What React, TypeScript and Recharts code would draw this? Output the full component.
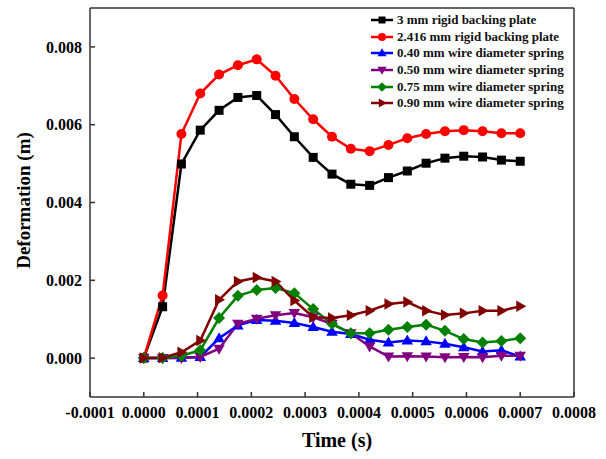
import React from 'react'
import { LineChart, Line, XAxis, YAxis, ReferenceLine, Legend } from 'recharts'

// time (s), one sample every 3.5e-5 s
const timeS = [
  0, 0.000035, 0.00007, 0.000105, 0.00014, 0.000175, 0.00021, 0.000245, 0.00028, 0.000315, 0.00035,
  0.000385, 0.00042, 0.000455, 0.00049, 0.000525, 0.00056, 0.000595, 0.00063, 0.000665, 0.0007,
]

// deformation (m)
const plate3mm = [
  0, 0.00132, 0.00499, 0.00586, 0.00637, 0.0067, 0.00675, 0.00626, 0.00569, 0.00516, 0.00473,
  0.00447, 0.00444, 0.00464, 0.00481, 0.00501, 0.00514, 0.00519, 0.00517, 0.00509, 0.00506,
]
const plate2416mm = [
  0, 0.00161, 0.00576, 0.0068, 0.00729, 0.00753, 0.00768, 0.00726, 0.00666, 0.00614, 0.00569,
  0.00538, 0.00532, 0.00548, 0.00565, 0.00576, 0.00583, 0.00586, 0.00583, 0.00578, 0.00578,
]
const spring040 = [
  0, 0, 0.00001, 0.00003, 0.00051, 0.00084, 0.00098, 0.00096, 0.0009, 0.0008, 0.00068,
  0.00062, 0.00047, 0.0004, 0.00045, 0.00043, 0.00037, 0.00028, 0.00017, 0.0002, 0.00004,
]
const spring050 = [
  0, 0, 0, 0.00003, 0.00024, 0.00088, 0.00101, 0.0011, 0.00116, 0.00105, 0.00088,
  0.00064, 0.0003, 0.00004, 0.00005, 0.00004, 0.00002, 0.00003, 0.00002, 0.00006, 0.00006,
]
const spring075 = [
  0, 0, 0.00006, 0.0002, 0.00103, 0.0016, 0.00175, 0.0018, 0.00167, 0.00126, 0.00088,
  0.00064, 0.00064, 0.00073, 0.0008, 0.00086, 0.0007, 0.00049, 0.0004, 0.00044, 0.00051,
]
const spring090 = [
  0, 0.00001, 0.00015, 0.00045, 0.0015, 0.00197, 0.00207, 0.00197, 0.00148, 0.00105, 0.00103,
  0.0011, 0.00122, 0.00139, 0.00144, 0.00122, 0.00111, 0.00115, 0.00122, 0.00122, 0.00133,
]

const xTicks = [-0.0001, 0, 0.0001, 0.0002, 0.0003, 0.0004, 0.0005, 0.0006, 0.0007, 0.0008]
const yTicks = [0, 0.002, 0.004, 0.006, 0.008]

const data = timeS.map((t, i) => ({
  t,
  plate3mm: plate3mm[i],
  plate2416mm: plate2416mm[i],
  spring040: spring040[i],
  spring050: spring050[i],
  spring075: spring075[i],
  spring090: spring090[i],
}))

type Shape = 'square' | 'circle' | 'up' | 'down' | 'diamond' | 'right'

const series: { key: string; name: string; color: string; shape: Shape }[] = [
  { key: 'plate3mm', name: '3 mm rigid backing plate', color: '#000000', shape: 'square' },
  { key: 'plate2416mm', name: '2.416 mm rigid backing plate', color: '#ff0000', shape: 'circle' },
  { key: 'spring040', name: '0.40 mm wire diameter spring', color: '#0000ff', shape: 'up' },
  { key: 'spring050', name: '0.50 mm wire diameter spring', color: '#800080', shape: 'down' },
  { key: 'spring075', name: '0.75 mm wire diameter spring', color: '#008000', shape: 'diamond' },
  { key: 'spring090', name: '0.90 mm wire diameter spring', color: '#800000', shape: 'right' },
]

const FONT = '"Liberation Serif", "Times New Roman", serif'
const AXIS = '#333333'

function Marker({ cx, cy, shape, color, s = 5 }: { cx: number; cy: number; shape: Shape; color: string; s?: number }) {
  if (cx == null || cy == null) return null
  switch (shape) {
    case 'square':
      return <rect x={cx - s + 0.5} y={cy - s + 0.5} width={2 * s - 1} height={2 * s - 1} fill={color} />
    case 'circle':
      return <circle cx={cx} cy={cy} r={s} fill={color} />
    case 'up':
      return <polygon points={`${cx},${cy - s * 1.2} ${cx - s * 1.15},${cy + s * 0.8} ${cx + s * 1.15},${cy + s * 0.8}`} fill={color} />
    case 'down':
      return <polygon points={`${cx},${cy + s * 1.2} ${cx - s * 1.15},${cy - s * 0.8} ${cx + s * 1.15},${cy - s * 0.8}`} fill={color} />
    case 'diamond':
      return <polygon points={`${cx},${cy - s * 1.2} ${cx + s * 1.2},${cy} ${cx},${cy + s * 1.2} ${cx - s * 1.2},${cy}`} fill={color} />
    default:
      return <polygon points={`${cx + s * 1.2},${cy} ${cx - s * 0.8},${cy - s * 1.15} ${cx - s * 0.8},${cy + s * 1.15}`} fill={color} />
  }
}

function LegendBox() {
  return (
    <div style={{ fontFamily: FONT, fontWeight: 'bold', fontSize: 13, color: '#111' }}>
      {series.map((s) => (
        <div key={s.key} style={{ display: 'flex', alignItems: 'center', height: 16.6 }}>
          <svg width={23} height={14} style={{ display: 'block' }}>
            <line x1={0} y1={7} x2={22} y2={7} stroke={s.color} strokeWidth={2.5} />
            <Marker cx={11} cy={7} shape={s.shape} color={s.color} s={4} />
          </svg>
          <span style={{ marginLeft: 3, whiteSpace: 'nowrap', lineHeight: '16px' }}>{s.name}</span>
        </div>
      ))}
    </div>
  )
}

const tickStyle = { fontSize: 16, fontWeight: 'bold', fill: '#000', fontFamily: FONT }

export default function App() {
  return (
    <div style={{ position: 'absolute', left: 0, top: 0, background: '#fff' }}>
      <LineChart width={606} height={459} data={data} margin={{ top: 8, right: 32, bottom: 0, left: 0 }}>
        <XAxis
          dataKey="t"
          type="number"
          domain={[-0.0001, 0.0008]}
          ticks={xTicks}
          interval={0}
          tickFormatter={(v: number) => v.toFixed(4)}
          height={62}
          stroke={AXIS}
          strokeWidth={1.5}
          tickSize={-5}
          tickMargin={15}
          tick={tickStyle}
          label={({ viewBox }: any) => (
            <text
              x={viewBox.x + viewBox.width / 2 + 5}
              y={viewBox.y + 43}
              textAnchor="middle"
              dominantBaseline="central"
              fontFamily={FONT}
              fontWeight="bold"
              fontSize={20}
              fill="#000"
            >
              Time (s)
            </text>
          )}
        />
        <YAxis
          type="number"
          domain={[-0.001, 0.009]}
          ticks={yTicks}
          interval={0}
          tickFormatter={(v: number) => v.toFixed(3)}
          width={90}
          stroke={AXIS}
          strokeWidth={1.5}
          tickSize={-5}
          tickMargin={13}
          tick={tickStyle}
          label={({ viewBox }: any) => {
            const cx = 23
            const cy = viewBox.y + viewBox.height / 2 - 2
            return (
              <text
                x={cx}
                y={cy}
                transform={`rotate(-90 ${cx} ${cy})`}
                textAnchor="middle"
                dominantBaseline="central"
                fontFamily={FONT}
                fontWeight="bold"
                fontSize={19}
                fill="#000"
              >
                Deformation (m)
              </text>
            )
          }}
        />
        <ReferenceLine y={0.009} stroke={AXIS} strokeWidth={1.5} ifOverflow="visible" />
        <ReferenceLine x={0.0008} stroke={AXIS} strokeWidth={1.5} ifOverflow="visible" />
        {series.map((s) => (
          <Line
            key={s.key}
            dataKey={s.key}
            name={s.name}
            type="linear"
            stroke={s.color}
            strokeWidth={2.5}
            isAnimationActive={false}
            activeDot={false}
            dot={(p: any) => <Marker key={`${s.key}-${p.index}`} cx={p.cx} cy={p.cy} shape={s.shape} color={s.color} />}
          />
        ))}
        <Legend
          layout="vertical"
          align="center"
          verticalAlign="middle"
          content={() => <LegendBox />}
          wrapperStyle={{ left: 371, top: 12, width: 'auto', height: 'auto' }}
        />
      </LineChart>
    </div>
  )
}
